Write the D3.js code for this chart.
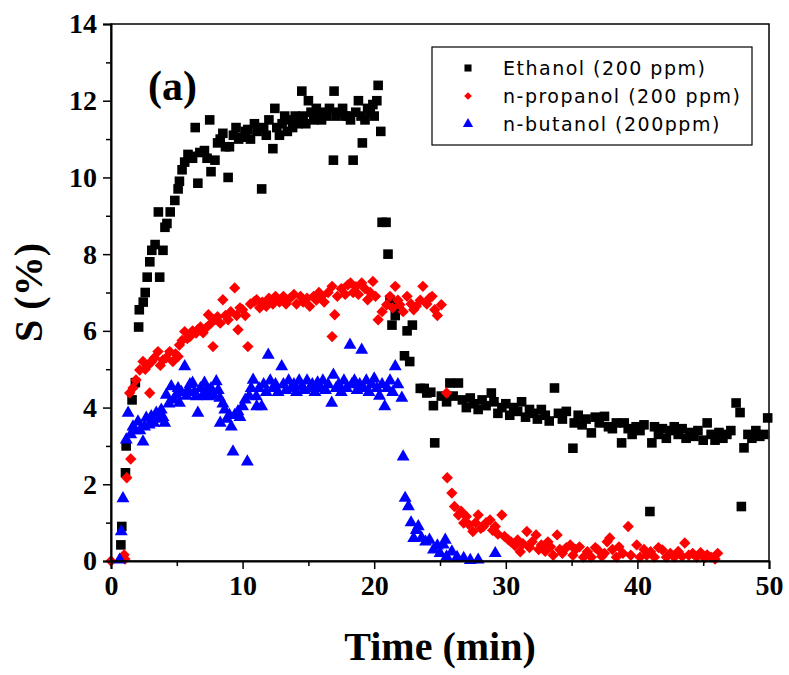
<!DOCTYPE html>
<html>
<head>
<meta charset="utf-8">
<script src="https://cdn.jsdelivr.net/npm/d3@7"></script>
<style>
  body { margin: 0; background: #fff; }
  svg { display: block; }
</style>
</head>
<body>
<svg id="chart" width="789" height="675"></svg>
<script>
// [time (min), S (%)]
const ethanol = [
  [0.75,0.42],[0.82,0.9],[1.1,2.3],[1.15,3.0],[1.6,4.2],[1.85,4.65],[2.1,6.1],[2.15,6.55],[2.45,6.75],[2.6,7.0],
  [2.75,7.4],[2.95,7.8],[3.1,8.1],[3.35,8.25],[3.6,9.1],[3.7,7.4],[3.95,8.1],[4.1,8.7],[4.25,8.8],[4.5,9.1],
  [4.85,9.4],[5.1,9.7],[5.2,9.9],[5.4,10.2],[5.6,10.4],[5.85,10.6],[6.05,10.55],[6.2,10.5],[6.4,11.3],[6.6,9.85],
  [6.75,10.65],[7.1,10.7],[7.3,10.5],[7.5,11.5],[7.6,10.15],[7.9,10.45],[8.1,10.9],[8.3,11.0],[8.5,11.15],[8.7,10.8],
  [8.9,10.0],[9.0,10.8],[9.3,11.1],[9.5,11.3],[9.7,11.0],[9.9,11.05],[10.2,11.2],[10.4,11.25],[10.6,11.0],[10.9,11.4],
  [11.1,11.2],[11.45,9.7],[11.6,11.3],[11.8,11.1],[12.0,11.5],[12.3,10.75],[12.45,11.8],[12.6,11.3],[12.8,11.1],[13.0,11.4],
  [13.2,11.6],[13.4,11.2],[13.6,11.5],[13.8,11.3],[14.0,11.6],[14.2,11.4],[14.5,12.25],[14.6,11.6],[14.8,11.4],[15.0,12.0],
  [15.2,11.7],[15.4,11.5],[15.6,11.8],[15.8,11.6],[16.0,11.5],[16.2,11.7],[16.4,11.6],[16.6,11.8],[16.9,10.45],[16.95,12.25],
  [17.1,11.6],[17.3,11.7],[17.6,11.8],[17.8,11.6],[18.0,11.6],[18.2,11.5],[18.4,10.45],[18.6,11.7],[18.8,12.0],[19.0,11.6],
  [19.1,10.9],[19.3,11.5],[19.5,11.8],[19.7,11.7],[19.9,11.9],[20.0,11.6],[20.2,12.0],[20.3,12.4],[20.5,11.2],[20.6,8.83],
  [20.9,8.83],[21.05,8.0],[21.2,6.8],[21.35,6.15],[21.6,6.4],[21.8,6.6],[22.3,5.35],[22.5,6.0],[22.7,5.2],[22.9,6.15],
  [23.5,4.5],[23.8,4.5],[24.0,4.38],[24.3,4.4],[24.5,4.05],[24.6,3.08],[25.1,4.3],[25.5,4.15],[25.75,4.64],[26.0,4.3],
  [26.4,4.64],[26.7,4.2],[27.0,4.0],[27.3,4.25],[27.6,4.1],[27.9,3.95],[28.2,4.2],[28.5,4.05],[28.9,4.38],[29.1,4.15],
  [29.4,3.85],[29.7,4.0],[30.0,4.1],[30.3,3.8],[30.6,4.0],[30.9,3.9],[31.2,4.15],[31.5,3.75],[31.8,3.95],[32.1,3.85],
  [32.4,3.7],[32.7,3.95],[33.0,3.8],[33.3,3.65],[33.7,4.51],[34.0,3.85],[34.3,3.7],[34.6,3.9],[35.1,2.94],[35.2,3.6],
  [35.5,3.8],[35.8,3.55],[36.1,3.7],[36.5,3.34],[36.8,3.75],[37.1,3.6],[37.5,3.77],[37.8,3.5],[38.1,3.45],[38.4,3.6],
  [38.8,3.08],[39.0,3.6],[39.3,3.45],[39.6,3.3],[39.9,3.5],[40.2,3.4],[40.5,3.55],[40.95,1.29],[41.1,3.08],[41.3,3.5],
  [41.6,3.3],[41.9,3.45],[42.2,3.2],[42.5,3.4],[42.8,3.5],[43.1,3.3],[43.4,3.45],[43.7,3.2],[44.0,3.35],[44.3,3.25],
  [44.6,3.4],[45.0,3.15],[45.3,3.6],[45.6,3.3],[45.9,3.15],[46.2,3.35],[46.5,3.2],[46.8,3.3],[47.1,3.4],[47.5,4.12],
  [47.8,3.87],[47.9,1.42],[48.1,2.95],[48.4,3.3],[48.7,3.2],[49.0,3.4],[49.3,3.25],[49.6,3.3],[49.9,3.73]
]

const propanol = [
  [0.0,0.0],[1.0,0.16],[1.06,0.05],[1.2,2.17],[1.42,4.38],[1.5,2.66],[1.67,4.51],[1.9,4.72],[2.18,4.98],[2.43,5.2],
  [2.6,5.0],[2.8,5.1],[2.94,4.38],[2.94,5.16],[3.1,5.2],[3.3,5.3],[3.57,5.46],[3.75,5.1],[3.95,5.24],[4.2,5.3],
  [4.46,5.46],[4.7,5.2],[4.9,5.4],[5.1,5.33],[5.2,5.63],[5.4,5.75],[5.6,5.98],[5.8,5.8],[6.0,5.85],[6.2,6.0],
  [6.46,5.94],[6.6,6.03],[6.8,6.1],[7.0,5.95],[7.2,6.07],[7.4,6.42],[7.6,6.2],[7.75,5.59],[7.9,6.3],[8.1,6.37],
  [8.3,6.2],[8.5,6.81],[8.7,6.4],[8.9,6.29],[9.1,6.5],[9.4,7.12],[9.55,6.4],[9.65,6.03],[9.8,6.6],[10.0,6.55],
  [10.2,6.4],[10.4,5.59],[10.6,6.7],[10.9,6.77],[11.07,6.81],[11.3,6.6],[11.5,6.75],[11.8,6.64],[12.0,6.85],[12.3,6.7],
  [12.5,6.9],[12.8,6.75],[13.1,6.9],[13.3,6.7],[13.6,6.85],[13.9,6.95],[14.1,6.7],[14.4,6.9],[14.6,6.75],[14.9,6.85],
  [15.1,6.64],[15.4,6.9],[15.6,6.8],[15.8,7.0],[16.0,6.9],[16.2,6.75],[16.5,7.0],[16.8,7.16],[16.8,5.85],[17.0,6.42],
  [17.2,6.9],[17.5,7.1],[17.8,6.95],[18.0,7.2],[18.2,7.25],[18.4,7.0],[18.6,7.15],[18.8,6.95],[19.05,7.25],[19.3,7.1],
  [19.5,6.81],[19.7,7.0],[19.9,7.29],[20.1,6.9],[20.3,6.29],[20.6,6.5],[20.95,6.68],[21.2,6.9],[21.4,6.6],[21.6,7.16],
  [21.8,6.8],[21.95,6.68],[22.2,6.5],[22.5,6.9],[22.8,6.7],[23.0,6.55],[23.2,6.64],[23.5,6.8],[23.7,7.16],[24.0,6.7],
  [24.2,6.85],[24.4,6.9],[24.6,6.55],[24.8,6.4],[25.1,6.68],[25.5,4.38],[25.55,2.17],[25.9,1.77],[26.1,1.42],[26.4,1.2],
  [26.6,1.3],[26.8,0.99],[27.0,1.16],[27.2,0.95],[27.5,0.77],[27.7,1.0],[27.9,1.2],[28.1,0.85],[28.3,0.9],[28.5,1.0],
  [28.8,1.07],[29.0,0.8],[29.2,0.9],[29.4,0.7],[29.7,1.2],[29.9,0.64],[30.2,0.55],[30.4,0.5],[30.7,0.4],[30.9,0.55],
  [31.1,0.24],[31.3,0.45],[31.6,0.77],[31.8,0.35],[32.0,0.5],[32.3,0.68],[32.5,0.3],[32.7,0.42],[33.0,0.25],[33.2,0.5],
  [33.4,0.37],[33.6,0.15],[33.9,0.68],[34.1,0.3],[34.3,0.2],[34.6,0.35],[34.9,0.42],[35.1,0.15],[35.3,0.3],[35.6,0.37],
  [35.9,0.1],[36.2,0.24],[36.5,0.1],[36.8,0.35],[37.0,0.29],[37.3,0.12],[37.5,0.2],[37.7,0.5],[37.9,0.6],[38.1,0.3],
  [38.4,0.1],[38.6,0.37],[38.9,0.2],[39.3,0.9],[39.5,0.15],[39.95,0.42],[40.2,0.1],[40.5,0.3],[40.7,0.15],[41.0,0.24],
  [41.3,0.1],[41.6,0.35],[41.9,0.29],[42.2,0.1],[42.5,0.2],[42.8,0.1],[43.1,0.25],[43.4,0.12],[43.6,0.47],[43.9,0.15],
  [44.2,0.2],[44.5,0.1],[44.8,0.22],[45.1,0.08],[45.3,0.16],[45.6,0.1],[45.9,0.05],[46.1,0.2]
]

const butanol = [
  [0.66,0.03],[0.78,0.77],[0.91,1.63],[1.16,3.16],[1.3,3.86],[1.5,3.3],[1.67,3.5],[1.85,3.4],[2.05,3.63],[2.2,3.4],
  [2.43,3.11],[2.55,3.5],[2.68,3.73],[2.9,3.55],[3.06,3.77],[3.25,3.6],[3.44,3.86],[3.6,3.7],[3.82,3.94],[3.95,3.75],
  [4.08,3.6],[4.2,4.33],[4.4,4.1],[4.58,4.55],[4.75,4.2],[4.96,4.33],[5.1,4.5],[5.2,4.12],[5.35,4.4],[5.6,5.07],
  [5.75,4.3],[5.85,4.46],[6.0,4.6],[6.2,4.64],[6.35,4.4],[6.48,4.29],[6.6,3.86],[6.8,4.5],[6.95,4.3],[7.1,4.64],
  [7.25,4.45],[7.37,4.29],[7.6,4.5],[7.8,4.3],[8.0,4.68],[8.15,4.45],[8.26,4.25],[8.3,3.6],[8.5,4.1],[8.64,3.94],
  [8.8,3.7],[9.0,3.8],[9.14,3.5],[9.27,2.85],[9.4,3.8],[9.65,3.9],[9.8,3.75],[10.0,4.03],[10.2,4.2],[10.36,2.59],
  [10.5,4.3],[10.65,4.5],[10.8,4.72],[11.04,4.29],[11.07,4.03],[11.25,4.5],[11.45,4.03],[11.6,4.6],[11.8,4.4],[11.95,5.37],
  [12.1,4.7],[12.3,4.5],[12.5,4.6],[12.7,4.4],[12.97,5.07],[13.1,4.6],[13.3,4.45],[13.5,4.7],[13.7,4.5],[13.9,4.6],
  [14.1,4.4],[14.3,4.7],[14.5,4.55],[14.7,4.45],[14.9,4.7],[15.1,4.5],[15.3,4.6],[15.5,4.4],[15.7,4.65],[15.9,4.5],
  [16.1,4.7],[16.3,4.45],[16.5,4.6],[16.77,4.12],[16.9,4.85],[17.1,4.5],[17.3,4.6],[17.5,4.4],[17.7,4.7],[17.9,4.5],
  [18.16,5.63],[18.3,4.6],[18.5,4.7],[18.7,4.45],[18.9,4.6],[19.05,5.5],[19.2,4.5],[19.4,4.7],[19.6,4.4],[19.8,4.6],
  [20.0,4.75],[20.2,4.5],[20.4,4.3],[20.6,4.6],[20.8,4.03],[21.0,4.5],[21.2,4.7],[21.4,4.4],[21.6,5.07],[21.8,4.6],
  [22.1,4.25],[22.2,2.72],[22.35,1.64],[22.6,1.42],[22.8,1.0],[23.0,0.59],[23.2,0.8],[23.35,0.9],[23.6,0.6],[23.9,0.5],
  [24.2,0.55],[24.5,0.29],[24.8,0.4],[25.0,0.2],[25.25,0.42],[25.4,0.55],[25.5,0.11],[25.9,0.24],[26.3,0.1],[26.8,0.07],
  [27.3,0.02],[27.9,0.03],[29.2,0.2]
]

const xTicks = [0, 10, 20, 30, 40, 50]
const yTicks = [0, 2, 4, 6, 8, 10, 12, 14]
const legendLabels = ['Ethanol (200 ppm)', 'n-propanol (200 ppm)', 'n-butanol (200ppm)']

const margin = { top: 24, right: 20, bottom: 114, left: 111 }
const width = 789
const height = 675
const innerW = width - margin.left - margin.right
const innerH = height - margin.top - margin.bottom

const svg = d3.select('#chart')
const g = svg.append('g').attr('transform', `translate(${margin.left},${margin.top})`)

const x = d3.scaleLinear().domain([0, 50]).range([0, innerW])
const y = d3.scaleLinear().domain([0, 14]).range([innerH, 0])

const serif = '"Liberation Serif", "Times New Roman", serif'

// 系列定義
const series = [
  { data: ethanol, color: '#000000', symbol: d3.symbolSquare, size: 92, legendSize: 50 },
  { data: propanol, color: '#ff0000', symbol: d3.symbolDiamond2, size: 82, legendSize: 38 },
  { data: butanol, color: '#0000ff', symbol: d3.symbolTriangle, size: 72, legendSize: 46 }
]

// 点の描画
series.forEach(s => {
  g.append('g')
    .selectAll('path')
    .data(s.data)
    .enter()
    .append('path')
    .attr('d', d3.symbol().type(s.symbol).size(s.size))
    .attr('transform', d => `translate(${x(d[0])},${y(d[1])})`)
    .attr('fill', s.color)
})

// 枠線
g.append('rect')
  .attr('width', innerW)
  .attr('height', innerH)
  .attr('fill', 'none')
  .attr('stroke', '#000')
  .attr('stroke-width', 1.5)

// 下軸（副目盛り）
g.append('g')
  .attr('transform', `translate(0,${innerH})`)
  .call(d3.axisBottom(x).tickValues(d3.range(5, 50, 10)).tickSize(5).tickFormat(''))
  .call(a => a.select('.domain').remove())

// 下軸（主目盛り）
const xAxis = g.append('g')
  .attr('transform', `translate(0,${innerH})`)
  .call(d3.axisBottom(x).tickValues(xTicks).tickSize(8).tickPadding(6))
xAxis.select('.domain').attr('stroke-width', 2)

// 左軸（副目盛り）
g.append('g')
  .call(d3.axisLeft(y).tickValues(d3.range(1, 14, 2)).tickSize(5).tickFormat(''))
  .call(a => a.select('.domain').remove())

// 左軸（主目盛り）
const yAxis = g.append('g')
  .call(d3.axisLeft(y).tickValues(yTicks).tickSize(8).tickPadding(6))
yAxis.select('.domain').attr('stroke-width', 2)

g.selectAll('.tick line').attr('stroke-width', 1.5)
g.selectAll('.tick text')
  .attr('font-family', serif)
  .attr('font-weight', 'bold')
  .attr('font-size', 28)
  .attr('fill', '#000')

// 軸タイトル
svg.append('text')
  .attr('x', margin.left + innerW / 2)
  .attr('y', 660)
  .attr('text-anchor', 'middle')
  .attr('font-family', serif)
  .attr('font-weight', 'bold')
  .attr('font-size', 40)
  .text('Time (min)')

svg.append('text')
  .attr('transform', `translate(42,${margin.top + innerH / 2}) rotate(-90)`)
  .attr('text-anchor', 'middle')
  .attr('font-family', serif)
  .attr('font-weight', 'bold')
  .attr('font-size', 40)
  .text('S (%)')

// パネルラベル
g.append('text')
  .attr('x', 37)
  .attr('y', 76)
  .attr('font-family', serif)
  .attr('font-weight', 'bold')
  .attr('font-size', 42)
  .text('(a)')

// 凡例
const legend = svg.append('g').attr('transform', 'translate(432,47)')
legend.append('rect')
  .attr('width', 320)
  .attr('height', 98)
  .attr('fill', '#fff')
  .attr('stroke', '#000')
  .attr('stroke-width', 1.2)

series.forEach((s, i) => {
  const row = legend.append('g').attr('transform', `translate(0,${21 + i * 28})`)
  row.append('path')
    .attr('d', d3.symbol().type(s.symbol).size(s.legendSize))
    .attr('transform', 'translate(36,0)')
    .attr('fill', s.color)
  row.append('text')
    .attr('x', 71)
    .attr('dy', '0.36em')
    .attr('font-family', '"DejaVu Sans", sans-serif')
    .attr('font-size', 19)
    .attr('letter-spacing', 1.5)
    .attr('fill', '#000')
    .text(legendLabels[i])
})
</script>
</body>
</html>
